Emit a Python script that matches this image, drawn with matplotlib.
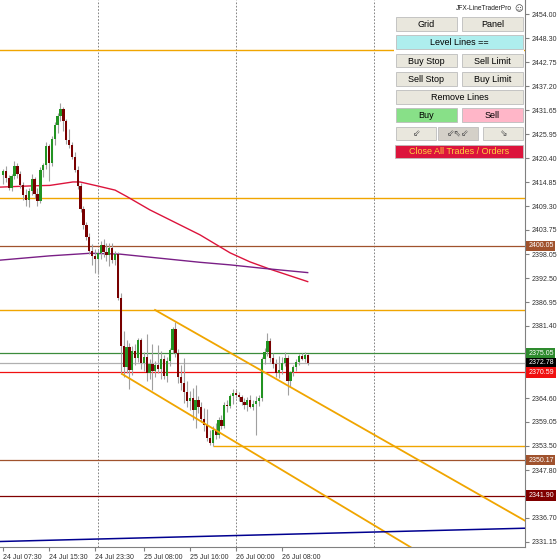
import matplotlib.pyplot as plt
import matplotlib.transforms as mtransforms
from matplotlib.patches import Rectangle
import numpy as np

plt.rcParams['font.family'] = ['Liberation Sans', 'DejaVu Sans']

# XAUUSD M30 candles, bar 0 = 24 Jul 07:30
opens = [2416.5, 2417.5, 2415.8, 2413.6, 2416.2, 2418.6, 2416.8, 2414.2, 2411.8, 2410.8,
         2412.8, 2415.6, 2412.2, 2410.4, 2417.6, 2418.8, 2423.2, 2419.4, 2424.8, 2428.2,
         2430.2, 2431.8, 2429.0, 2424.6, 2423.4, 2420.8, 2417.8, 2414.0, 2408.6, 2404.8,
         2402.2, 2398.8, 2397.6, 2397.0, 2398.4, 2400.2, 2398.6, 2397.8, 2399.6, 2396.8,
         2398.2, 2388.0, 2376.6, 2371.8, 2376.4, 2371.2, 2375.6, 2374.0, 2378.0, 2372.8,
         2374.2, 2370.4, 2372.6, 2371.0, 2372.2, 2371.4, 2373.6, 2369.8, 2373.2, 2375.8,
         2380.6, 2375.0, 2369.4, 2368.2, 2366.0, 2364.0, 2364.6, 2361.8, 2364.2, 2362.4,
         2359.8, 2358.4, 2355.4, 2354.2, 2357.2, 2356.0, 2359.6, 2358.2, 2363.0, 2362.8,
         2365.0, 2365.8, 2365.4, 2364.8, 2363.6, 2363.0, 2364.2, 2362.6, 2363.2, 2364.0,
         2364.6, 2373.6, 2375.2, 2377.8, 2374.0, 2372.6, 2370.4, 2371.2, 2372.8, 2374.0,
         2368.6, 2370.6, 2371.8, 2373.0, 2374.4, 2373.8, 2374.6]
highs = [2418.0, 2418.5, 2416.5, 2416.8, 2419.8, 2419.2, 2417.5, 2415.0, 2413.2, 2413.5,
         2416.8, 2416.0, 2413.6, 2418.4, 2419.4, 2424.2, 2423.8, 2425.6, 2428.8, 2431.0,
         2433.2, 2432.4, 2429.6, 2427.2, 2424.2, 2421.8, 2418.6, 2414.6, 2409.4, 2405.6,
         2403.0, 2400.4, 2399.2, 2399.0, 2401.2, 2401.6, 2400.6, 2400.8, 2400.6, 2398.8,
         2398.6, 2389.0, 2380.2, 2378.2, 2377.4, 2376.6, 2377.2, 2378.6, 2378.6, 2375.2,
         2379.6, 2373.6, 2377.2, 2373.2, 2377.0, 2375.6, 2374.6, 2374.2, 2376.2, 2381.2,
         2382.4, 2376.0, 2372.2, 2374.0, 2368.6, 2366.2, 2367.0, 2367.6, 2365.0, 2363.6,
         2362.2, 2362.0, 2357.2, 2358.2, 2358.8, 2360.2, 2360.6, 2363.6, 2364.2, 2365.6,
         2366.6, 2366.4, 2366.0, 2365.4, 2364.6, 2364.8, 2365.4, 2364.2, 2365.0, 2365.2,
         2374.2, 2376.2, 2379.8, 2378.6, 2375.0, 2373.6, 2374.4, 2374.2, 2375.2, 2374.6,
         2371.0, 2372.4, 2373.6, 2374.8, 2375.0, 2375.2, 2374.9]
lows = [2414.5, 2415.0, 2413.0, 2412.8, 2415.5, 2415.8, 2413.5, 2410.8, 2409.2, 2409.0,
        2411.8, 2411.2, 2409.4, 2410.0, 2416.0, 2418.0, 2415.2, 2418.6, 2423.6, 2426.4,
        2429.0, 2426.8, 2423.8, 2422.8, 2420.2, 2417.2, 2413.2, 2407.8, 2404.0, 2401.4,
        2398.2, 2395.6, 2393.8, 2393.4, 2397.0, 2397.4, 2396.4, 2395.4, 2396.0, 2395.6,
        2387.4, 2370.2, 2369.4, 2370.4, 2366.8, 2370.0, 2372.4, 2373.0, 2371.4, 2371.0,
        2368.6, 2369.0, 2366.4, 2369.4, 2370.4, 2369.0, 2369.0, 2368.4, 2372.0, 2375.0,
        2374.2, 2368.0, 2366.4, 2363.4, 2362.4, 2361.8, 2359.4, 2357.6, 2361.0, 2359.0,
        2357.0, 2354.6, 2353.6, 2353.5, 2355.0, 2355.4, 2357.4, 2357.6, 2361.4, 2362.2,
        2363.2, 2364.6, 2363.8, 2363.0, 2362.0, 2361.6, 2362.2, 2361.8, 2356.0, 2362.8,
        2364.0, 2372.6, 2374.4, 2373.0, 2371.6, 2369.4, 2369.2, 2370.2, 2372.0, 2365.4,
        2367.2, 2369.8, 2370.8, 2372.2, 2373.4, 2373.0, 2372.4]
closes = [2417.5, 2415.8, 2413.6, 2416.2, 2418.6, 2416.8, 2414.2, 2411.8, 2410.8, 2412.8,
          2415.6, 2412.2, 2410.4, 2417.6, 2418.8, 2423.2, 2419.4, 2424.8, 2428.2, 2430.2,
          2431.8, 2429.0, 2424.6, 2423.4, 2420.8, 2417.8, 2414.0, 2408.6, 2404.8, 2402.2,
          2398.8, 2397.6, 2397.0, 2398.4, 2400.2, 2398.6, 2397.8, 2399.6, 2396.8, 2398.2,
          2388.0, 2376.6, 2371.8, 2376.4, 2371.2, 2375.6, 2374.0, 2378.0, 2372.8, 2374.2,
          2370.4, 2372.6, 2371.0, 2372.2, 2371.4, 2373.6, 2369.8, 2373.2, 2375.8, 2380.6,
          2375.0, 2369.4, 2368.2, 2366.0, 2364.0, 2364.6, 2361.8, 2364.2, 2362.4, 2359.8,
          2358.4, 2355.4, 2354.2, 2357.2, 2356.0, 2359.6, 2358.2, 2363.0, 2362.8, 2365.0,
          2365.8, 2365.4, 2364.8, 2363.6, 2363.0, 2364.2, 2362.6, 2363.2, 2364.0, 2364.6,
          2373.6, 2375.2, 2377.8, 2374.0, 2372.6, 2370.4, 2371.2, 2372.8, 2374.0, 2368.6,
          2370.6, 2371.8, 2373.0, 2374.4, 2373.8, 2374.6, 2372.78]

# moving averages (bar, price)
ma_red_bar = [-1.0, 10.4, 16.3, 24.3, 26.8, 32.7, 39.0, 43.1, 51.1, 68.5, 79.0, 85.9, 92.9, 106.0]
ma_red_val = [2413.7, 2414.0, 2414.1, 2414.9, 2414.9, 2414.0, 2413.0, 2411.5, 2408.4, 2402.6,
              2398.4, 2396.3, 2394.6, 2391.7]
ma_purple_bar = [-1.0, 16.3, 30.3, 40.7, 68.5, 79.0, 90.4, 106.0]
ma_purple_val = [2396.7, 2397.7, 2398.3, 2398.1, 2396.2, 2395.6, 2394.8, 2393.8]

# trend lines: two anchors (bar, price), drawn as rays to the right
channel_upper = [(52.9, 2385.1), (140.0, 2351.9)]
channel_lower = [(41.4, 2370.2), (140.0, 2330.6)]
blue_line = [(-1.0, 2331.2), (182.0, 2334.3)]

# plain horizontal levels (no price label)
orange_levels = [2445.6, 2411.2, 2385.1]
support_level = 2353.50
support_start = 73
# levels with a price label on the scale
label_prices = [2400.05, 2375.05, 2372.78, 2370.59, 2350.17, 2341.90]
label_colors = ['#A0522D', '#2E8B2E', '#000000', '#F01010', '#A0522D', '#800000']
line_colors = ['#A0522D', '#3C8C3C', '#B0B0B0', '#F01010', '#A0522D', '#800000']

price_ticks = [2454.00, 2448.30, 2442.75, 2437.20, 2431.65, 2425.95, 2420.40, 2414.85,
               2409.30, 2403.75, 2398.05, 2392.50, 2386.95, 2381.40, 2364.60, 2359.05,
               2353.50, 2347.80, 2336.70, 2331.15]
time_ticks = [0, 16, 32, 49, 65, 81, 97]
time_labels = ['24 Jul 07:30', '24 Jul 15:30', '24 Jul 23:30', '25 Jul 08:00',
               '25 Jul 16:00', '26 Jul 00:00', '26 Jul 08:00']
day_breaks = [33, 81, 129]

ORANGE = '#F0A500'
W, H = 560, 560

fig = plt.figure(figsize=(5.6, 5.6), dpi=100)
ax = fig.add_axes([0, 13 / H, 525 / W, 547 / H])
ax.set_xlim(-1.04, 181.6)
ax.set_ylim(2329.92, 2457.26)

for d in day_breaks:
    ax.axvline(d, color='#707070', lw=0.6, ls=(0, (2, 2)), zorder=1)

for lv in orange_levels:
    ax.axhline(lv, color=ORANGE, lw=1.0, zorder=2)
ax.hlines(support_level, support_start, 200, color=ORANGE, lw=1.0, zorder=2)
for p, c in zip(label_prices, line_colors):
    ax.axhline(p, color=c, lw=0.9, zorder=2)

ax.plot(ma_red_bar, ma_red_val, color='#DC143C', lw=1.0, zorder=3)
ax.plot(ma_purple_bar, ma_purple_val, color='#7A1F86', lw=1.0, zorder=3)

# candles
o = np.array(opens)
c = np.array(closes)
idx = np.arange(len(o))
ax.vlines(idx, lows, highs, color='#A0A0A0', lw=0.8, zorder=4)
body_col = np.where(c > o, '#229322', np.where(c < o, '#780000', '#A0A0A0'))
body_h = np.maximum(np.abs(c - o), 0.25)
ax.bar(idx, body_h, bottom=np.minimum(o, c), width=0.8, color=body_col, zorder=5)


def draw_ray(anchors, color, lw):
    (x0, y0), (x1, y1) = anchors
    slope = (y1 - y0) / (x1 - x0)
    xe = 200
    ax.plot([x0, xe], [y0, y0 + slope * (xe - x0)], color=color, lw=lw, zorder=6)


draw_ray(channel_upper, ORANGE, 1.3)
draw_ray(channel_lower, ORANGE, 1.3)
ax.plot([blue_line[0][0], blue_line[1][0]], [blue_line[0][1], blue_line[1][1]],
        color='#000090', lw=1.1, zorder=6)

# axes styling
for s in ['left', 'top']:
    ax.spines[s].set_visible(False)
for s in ['right', 'bottom']:
    ax.spines[s].set_color('#808080')
    ax.spines[s].set_linewidth(0.8)
ax.yaxis.tick_right()
ax.set_yticks(price_ticks)
ax.set_yticklabels([f'{p:.2f}' for p in price_ticks])
ax.tick_params(axis='y', labelsize=5, length=3, pad=2, color='#808080', labelcolor='#303030')
ax.set_xticks(time_ticks)
ax.set_xticklabels(time_labels)
plt.setp(ax.get_xticklabels(), ha='left')
ax.tick_params(axis='x', labelsize=5, length=3, pad=2, color='#808080', labelcolor='#303030')

trans = mtransforms.blended_transform_factory(ax.transAxes, ax.transData)
for p, col in zip(label_prices, label_colors):
    ax.text(1.006, p, f'{p:.2f}', transform=trans, ha='left', va='center', fontsize=5,
            color='white', clip_on=False, zorder=10,
            bbox=dict(boxstyle='square,pad=0.25', fc=col, ec='none'))

# trading panel (pixel coordinates of the screenshot)
def px_rect(x0, y0, x1, y1, fc, ec='#BDBDBD'):
    r = Rectangle((x0 / W, 1 - y1 / H), (x1 - x0) / W, (y1 - y0) / H,
                  transform=fig.transFigure, fc=fc, ec=ec, lw=0.6, zorder=20)
    fig.add_artist(r)


def px_text(x, y, s, size=6.5, color='black', **kw):
    fig.text(x / W, 1 - y / H, s, ha='center', va='center', fontsize=size,
             color=color, zorder=21, **kw)


px_rect(394, 15, 524, 161, 'white', ec='none')
buttons = [
    ('Grid', 396, 17, 457, 31, '#E9E7DD', 'black'),
    ('Panel', 462, 17, 523, 31, '#E9E7DD', 'black'),
    ('Level Lines ==', 396, 35, 523, 49, '#AEEEEE', 'black'),
    ('Buy Stop', 396, 54, 457, 67, '#E9E7DD', 'black'),
    ('Sell Limit', 462, 54, 523, 67, '#E9E7DD', 'black'),
    ('Sell Stop', 396, 72, 457, 86, '#E9E7DD', 'black'),
    ('Buy Limit', 462, 72, 523, 86, '#E9E7DD', 'black'),
    ('Remove Lines', 396, 90, 523, 104, '#E9E7DD', 'black'),
    ('Buy', 396, 108, 457, 122, '#88E088', 'black'),
    ('Sell', 462, 108, 523, 122, '#FFB6C8', 'black'),
    ('Close All Trades / Orders', 395, 145, 523, 158, '#DC143C', '#FFD040'),
]
for label, x0, y0, x1, y1, fc, tc in buttons:
    px_rect(x0, y0, x1, y1, fc)
    px_text((x0 + x1) / 2, (y0 + y1) / 2 + 0.5, label, color=tc)

icons = [('\u21d9', 396, 436, '#E9E7DD'), ('\u21d9\u21d6\u21d9', 438, 478, '#D4D0C8'),
         ('\u21d8', 483, 523, '#E9E7DD')]
for s, x0, x1, fc in icons:
    px_rect(x0, 127, x1, 140, fc)
    px_text((x0 + x1) / 2, 133.5, s, size=6.5, color='#505050', family=['DejaVu Sans'])

px_text(484, 9, 'JFX-LineTraderPro', size=4.8, color='#202020')
px_text(518.5, 9, '\u263a', size=6, color='#404040', family=['DejaVu Sans'])

fig.savefig('out.png', dpi=100, facecolor='white')
